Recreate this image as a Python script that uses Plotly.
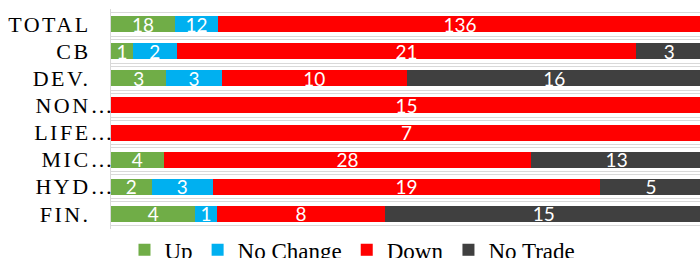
import plotly.graph_objects as go

# ---- data ----
categories = ["TOTAL", "CB", "DEV.", "NON…", "LIFE…", "MIC…", "HYD…", "FIN."]
up        = [18, 1, 3, 0, 0, 4, 2, 4]
no_change = [12, 2, 3, 0, 0, 0, 3, 1]
down      = [136, 21, 10, 15, 7, 28, 19, 8]
no_trade  = [0, 3, 16, 0, 0, 13, 5, 15]

series_names = ["Up", "No Change", "Down", "No Trade"]
series_values = [up, no_change, down, no_trade]
series_colors = ["#70AD47", "#00B0F0", "#FF0000", "#404040"]

pos = list(range(len(categories)))


def fmt_label(c):
    if c.endswith("…"):
        return ('<span style="letter-spacing:2.5px">' + c[:-1] + '</span>'
                '<span style="letter-spacing:-22px">…</span>')
    return '<span style="letter-spacing:2.5px">' + c + '</span>'


fig = go.Figure()
for name, vals, color in zip(series_names, series_values, series_colors):
    fig.add_trace(go.Bar(
        y=pos, x=vals, name=name, orientation="h",
        marker=dict(color=color, line=dict(width=0)),
        text=[str(v) if v else "" for v in vals],
        textposition="inside", insidetextanchor="middle", textangle=0,
        textfont=dict(family="Lato", size=19, color="white"),
        hoverinfo="skip",
    ))

boundaries = []
for k in range(len(categories) + 1):
    b = k - 0.5
    boundaries += [b - 0.055, b + 0.055]

fig.update_layout(
    barmode="stack", barnorm="percent", bargap=0.41,
    width=700, height=258,
    margin=dict(l=111, r=0, t=9, b=29, autoexpand=False),
    plot_bgcolor="white", paper_bgcolor="white",
    uniformtext=dict(minsize=19, mode="show"),
    showlegend=True,
    legend=dict(orientation="h", xref="paper", x=0.41, xanchor="center",
                yref="paper", y=0.003, yanchor="top", traceorder="normal",
                itemwidth=30, tracegroupgap=0,
                bgcolor="rgba(0,0,0,0)",
                font=dict(family="Liberation Serif", size=23, color="black")),
)
fig.update_yaxes(
    range=[len(categories) - 0.44, -0.56], automargin=False,
    tickmode="array", tickvals=pos, ticktext=[fmt_label(c) for c in categories],
    showgrid=False, zeroline=False, showline=True, linecolor="#d9d9d9", linewidth=1,
    ticks="", ticklabelstandoff=15,
    tickfont=dict(family="Liberation Serif", size=22, color="black"),
    minor=dict(tickmode="array", tickvals=boundaries, showgrid=True,
               gridcolor="#d9d9d9", gridwidth=1, ticks=""),
)
fig.update_xaxes(range=[0, 99.66], automargin=False, showgrid=False, zeroline=False,
                 showticklabels=False, showline=False)

fig.write_html("out.html", config={"displayModeBar": False},
               post_script="document.body.style.margin='0';document.body.style.overflow='hidden';")
